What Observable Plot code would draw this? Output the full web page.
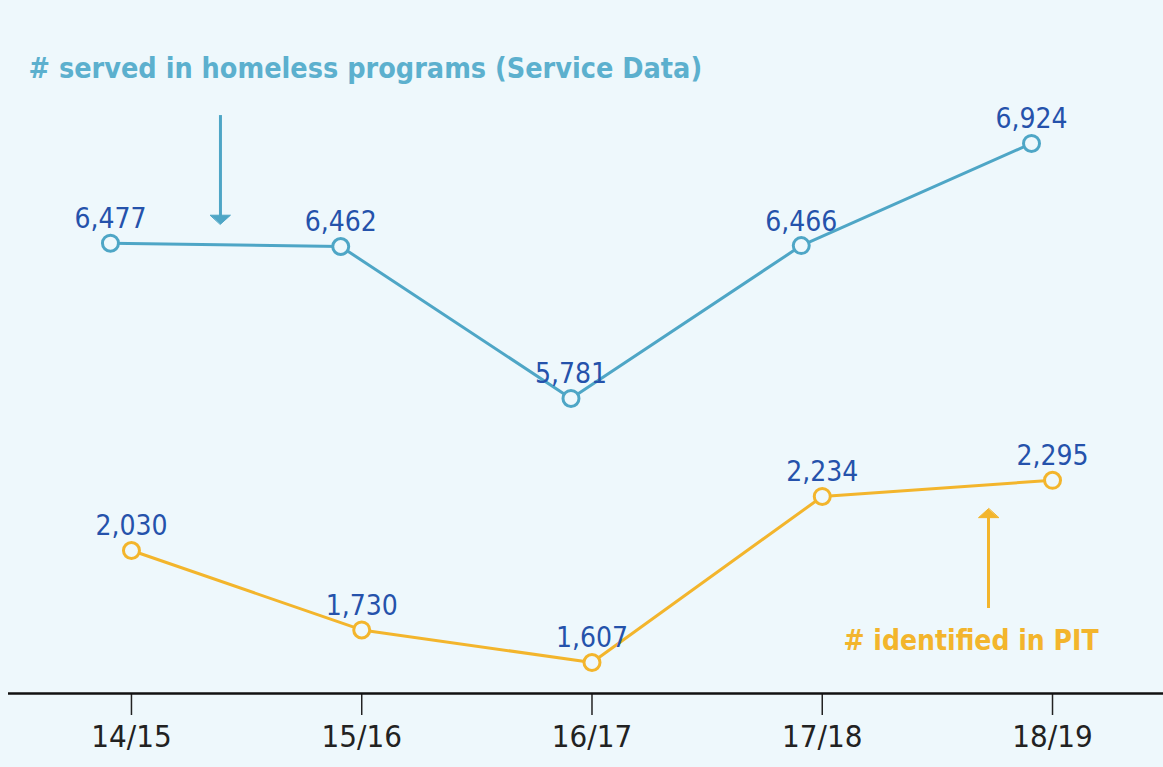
<!DOCTYPE html>
<html>
<head>
<meta charset="utf-8">
<script src="https://cdn.jsdelivr.net/npm/d3@7"></script>
<script src="https://cdn.jsdelivr.net/npm/@observablehq/plot@0.6"></script>
<style>
  html, body { margin: 0; padding: 0; background: #eef8fc; }
  #chart { position: relative; width: 1163px; height: 767px; background: #eef8fc; overflow: hidden; }
  #chart svg { position: absolute; left: 0; top: 0; background: transparent; }
  #chart svg text { font-family: "Liberation Sans Narrow", "DejaVu Sans Condensed", "Roboto Condensed", Roboto, sans-serif; font-stretch: condensed; }
</style>
</head>
<body>
<div id="chart"></div>
<script>
// ---- data ----
const seasons = ["14/15", "15/16", "16/17", "17/18", "18/19"];
const served = [6477, 6462, 5781, 6466, 6924];   // # served in homeless programs (Service Data)
const pit = [2030, 1730, 1607, 2234, 2295];      // # identified in PIT
const titleServed = "# served in homeless programs (Service Data)";
const titlePit = "# identified in PIT";

const BG = "#eef8fc";
const BLUE = "#4ea6c6";
const LABEL = "#2552ab";
const ORANGE = "#f3b52c";

const servedData = seasons.map((s, i) => ({i, season: s, value: served[i]}));
const pitData = seasons.map((s, i) => ({i, season: s, value: pit[i]}));
const fmt = d3.format(",");

// flat filled arrowhead: tip at origin, pointing "up" before rotation
const headShape = {
  draw(context) {
    context.moveTo(0, 0);
    context.lineTo(-10, 9);
    context.lineTo(10, 9);
    context.closePath();
  }
};

const W = 1163, H = 767;
const xOpt = {domain: [-0.534, 4.482]};

const plotServed = Plot.plot({
  width: W, height: H,
  marginLeft: 8, marginRight: 0, marginTop: 126, marginBottom: 351,
  x: {...xOpt, axis: null},
  y: {domain: [5700, 7000], axis: null},
  style: {background: "transparent", overflow: "visible"},
  marks: [
    Plot.text([titleServed], {x: -0.447, y: 7260, text: d => d, textAnchor: "start",
      fill: "#5cb0ce", fontSize: 28.5, fontWeight: "bold"}),
    Plot.ruleX([{x: 0.3865, y1: 7049, y2: 6580}], {x: "x", y1: "y1", y2: "y2",
      stroke: BLUE, strokeWidth: 3}),
    Plot.vector([{x: 0.3865, y: 6562}], {x: "x", y: "y", shape: headShape, rotate: 180,
      anchor: "start", length: 9, fill: BLUE, stroke: BLUE, strokeWidth: 1}),
    Plot.line(servedData, {x: "i", y: "value", stroke: BLUE, strokeWidth: 3, dx: -21}),
    Plot.dot(servedData, {x: "i", y: "value", r: 8, stroke: BLUE, strokeWidth: 3, fill: BG, dx: -21}),
    Plot.text(servedData, {x: "i", y: "value", text: d => fmt(d.value), dx: -21, dy: -24,
      fill: LABEL, fontSize: 28})
  ]
});

const plotPit = Plot.plot({
  width: W, height: H,
  marginLeft: 8, marginRight: 0, marginTop: 452, marginBottom: 74,
  x: {...xOpt},
  y: {domain: [1490, 2400], axis: null},
  style: {background: "transparent", overflow: "visible"},
  marks: [
    Plot.axisX({ticks: [0, 1, 2, 3, 4], tickFormat: i => seasons[i], tickSize: 22,
      tickPadding: 9, fontSize: 31, stroke: "#222", strokeWidth: 1.5, fill: "#222", label: null}),
    Plot.ruleY([1490], {stroke: "#111", strokeWidth: 2.5}),
    Plot.ruleX([{x: 3.722, y1: 1811, y2: 2175}], {x: "x", y1: "y1", y2: "y2",
      stroke: ORANGE, strokeWidth: 3}),
    Plot.vector([{x: 3.722, y: 2188}], {x: "x", y: "y", shape: headShape, rotate: 0,
      anchor: "start", length: 9, fill: ORANGE, stroke: ORANGE, strokeWidth: 1}),
    Plot.text([titlePit], {x: 3.092, y: 1690, text: d => d, textAnchor: "start",
      fill: ORANGE, fontSize: 28, fontWeight: "bold"}),
    Plot.line(pitData, {x: "i", y: "value", stroke: ORANGE, strokeWidth: 3}),
    Plot.dot(pitData, {x: "i", y: "value", r: 8, stroke: ORANGE, strokeWidth: 3, fill: BG}),
    Plot.text(pitData, {x: "i", y: "value", text: d => fmt(d.value), dy: -24,
      fill: LABEL, fontSize: 28})
  ]
});

const el = document.getElementById("chart");
el.appendChild(plotPit);
el.appendChild(plotServed);
</script>
</body>
</html>
